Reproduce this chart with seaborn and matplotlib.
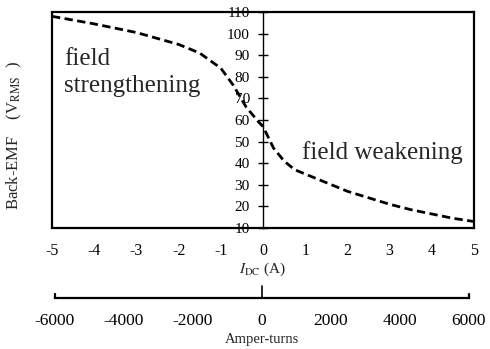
import matplotlib
matplotlib.use('Agg')
import matplotlib.pyplot as plt
import seaborn as sns
import pandas as pd

# DC current (A) and back-EMF (V rms)
idc = [-5, -4, -3, -2, -1.5, -1, -0.7, -0.4, -0.1, 0, 0.25, 0.5, 0.75, 1,
       1.5, 2, 2.5, 3, 3.5, 4, 4.5, 5]
emf = [108, 104.5, 100.5, 95, 91, 84, 76, 66, 59, 57, 47, 41, 37, 35,
       31, 27, 24, 21, 18.5, 16.5, 14.5, 13]

idc_ticks = [-5, -4, -3, -2, -1, 0, 1, 2, 3, 4, 5]
emf_ticks = [10, 20, 30, 40, 50, 60, 70, 80, 90, 100, 110]
at_ticks = [-6000, -4000, -2000, 0, 2000, 4000, 6000]

sns.set_style('white')
plt.rcParams['font.family'] = ['Liberation Serif', 'DejaVu Serif']
plt.rcParams['mathtext.fontset'] = 'stix'

df = pd.DataFrame({'I': idc, 'EMF': emf})

fig = plt.figure(figsize=(4.9, 3.49), dpi=100)
ax = fig.add_axes([0.1061, 0.3467, 0.8612, 0.6189])

sns.lineplot(data=df, x='I', y='EMF', color='k', linewidth=2, ax=ax)
ax.lines[0].set_dashes((3, 1.6))

ax.set_xlim(-5, 5)
ax.set_ylim(10, 110)

# box
for s in ['top', 'right', 'bottom']:
    ax.spines[s].set_color('k')
    ax.spines[s].set_linewidth(1.6)
ax.axvline(-5, color='k', lw=1.6, clip_on=False)
# y-axis through the origin
ax.spines['left'].set_position(('data', 0))
ax.spines['left'].set_color('k')
ax.spines['left'].set_linewidth(1.0)

ax.set_yticks(emf_ticks)
ax.set_xticks(idc_ticks)
ax.set_xticklabels([str(t) for t in idc_ticks])
ax.tick_params(axis='y', direction='inout', length=7, width=1.0, pad=6,
               labelsize=11, left=True, colors='k')
ax.tick_params(axis='x', length=0, pad=11, labelsize=11.5, colors='k')

ax.set_xlabel(r'$I_{\mathrm{DC}}$ (A)', fontsize=11, labelpad=1)
ax.set_ylabel(r'Back-EMF    (V$_{\mathrm{RMS}}$  )', fontsize=12)
ax.yaxis.set_label_coords(-0.066, 0.43)

ax.text(-4.72, 82, 'field\nstrengthening', fontsize=18, ha='left',
        va='center', linespacing=1.3)
ax.text(0.92, 45, 'field weakening', fontsize=18, ha='left', va='center')

# secondary scale: amper-turns
ax2 = fig.add_axes([0.1122, 0.1461, 0.8449, 0.0344])
ax2.set_xlim(-6000, 6000)
ax2.set_ylim(0, 1)
ax2.set_yticks([])
ax2.patch.set_alpha(0)
for s in ['top', 'right', 'left']:
    ax2.spines[s].set_visible(False)
ax2.spines['bottom'].set_color('k')
ax2.spines['bottom'].set_linewidth(1.6)
ax2.set_xticks(at_ticks)
ax2.set_xticklabels([str(t) for t in at_ticks])
ax2.tick_params(axis='x', length=0, pad=11, labelsize=12.5, colors='k')
ax2.axvline(0, 0, 1, color='k', lw=1.2, clip_on=False)
ax2.axvline(-6000, 0, 0.3, color='k', lw=1.6, clip_on=False)
ax2.axvline(6000, 0, 0.3, color='k', lw=1.6, clip_on=False)
ax2.set_xlabel('Amper-turns', fontsize=10.5, labelpad=3)

fig.savefig('out.png', dpi=100)
